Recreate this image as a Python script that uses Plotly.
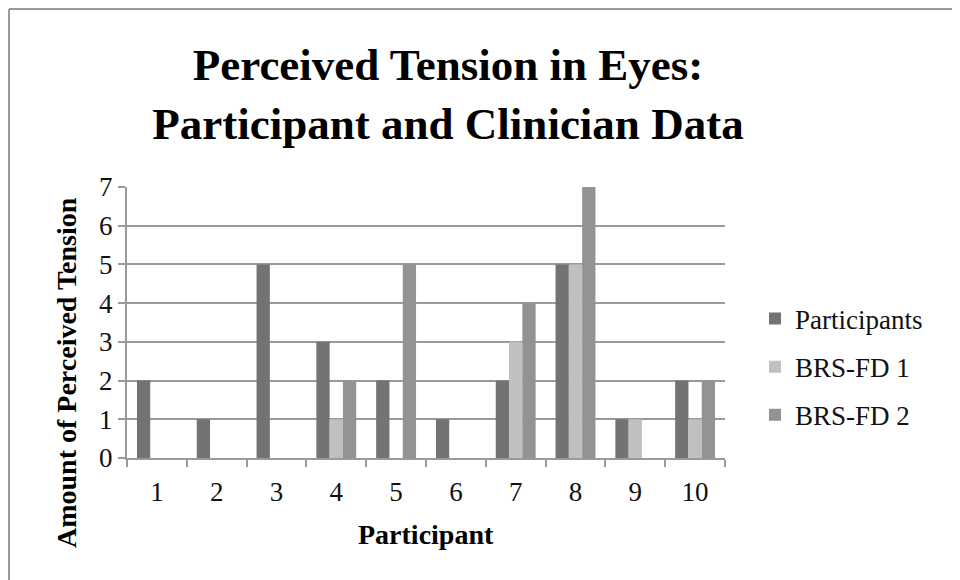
import plotly.graph_objects as go

categories = ["1", "2", "3", "4", "5", "6", "7", "8", "9", "10"]
participants = [2, 1, 5, 3, 2, 1, 2, 5, 1, 2]
brs_fd1 = [0, 0, 0, 1, 0, 0, 3, 5, 1, 1]
brs_fd2 = [0, 0, 0, 2, 5, 0, 4, 7, 0, 2]
y_ticks = [0, 1, 2, 3, 4, 5, 6, 7]

FONT = "Liberation Serif"
GRID = "#9a9a9a"

# plot area in figure pixels
L, R, T, B = 119, 717, 179, 450
W, H = 960, 580
pw, ph = R - L, B - T

def px(x):
    return (x - L) / pw

def py(y):
    return (B - y) / ph

fig = go.Figure()
series = [("Participants", participants, "#737373"),
          ("BRS-FD 1", brs_fd1, "#c0c0c0"),
          ("BRS-FD 2", brs_fd2, "#939393")]
for i, (name, vals, col) in enumerate(series):
    fig.add_trace(go.Bar(x=categories, y=vals, name=name, legendgroup=f"g{i}",
                         marker=dict(color=col, line=dict(width=0))))

fig.update_layout(
    width=W, height=H,
    margin=dict(l=L, r=W - R, t=T, b=H - B, pad=0),
    paper_bgcolor="white", plot_bgcolor="white",
    font=dict(family=FONT, color="#111111", size=27),
    barmode="group", bargap=0.333, bargroupgap=0,
    title=dict(text="<b>Perceived Tension in Eyes:<br>Participant and Clinician Data</b>",
               x=440 / W, xanchor="center", xref="container",
               y=1 - 72 / H, yanchor="top", yref="container",
               font=dict(family=FONT, size=45, color="#000000")),
    legend=dict(x=px(747), xanchor="left", y=py(359), yanchor="middle",
                font=dict(family=FONT, size=27, color="#111111"),
                tracegroupgap=10, bgcolor="rgba(0,0,0,0)"),
    showlegend=True,
)
fig.update_xaxes(type="category", showline=True, linecolor=GRID, linewidth=2,
                 ticks="outside", tickson="boundaries", ticklen=7, tickcolor=GRID, tickwidth=2,
                 tickfont=dict(family=FONT, size=27, color="#111111"),
                 ticklabelstandoff=9, showgrid=False)
fig.update_yaxes(range=[0, 7], tickvals=y_ticks, showline=True, linecolor=GRID, linewidth=2,
                 ticks="outside", ticklen=7, tickcolor=GRID, tickwidth=2,
                 showgrid=True, gridcolor=GRID, gridwidth=2, zeroline=False,
                 tickfont=dict(family=FONT, size=27, color="#111111"))

fig.add_annotation(text="<b>Participant</b>", xref="paper", yref="paper",
                   x=px(418), y=py(526), xanchor="center", yanchor="middle", showarrow=False,
                   font=dict(family=FONT, size=28, color="#000000"))
fig.add_annotation(text="<b>Amount of Perceived Tension</b>", xref="paper", yref="paper",
                   x=px(58), y=py(365), xanchor="center", yanchor="middle",
                   showarrow=False, textangle=-90,
                   font=dict(family=FONT, size=28, color="#000000"))

# outer chart border (top and left visible)
fig.add_shape(type="line", xref="paper", yref="paper", x0=px(1), x1=px(965), y0=py(1), y1=py(1),
              line=dict(color="#9a9a9a", width=2))
fig.add_shape(type="line", xref="paper", yref="paper", x0=px(1), x1=px(1), y0=py(1), y1=py(585),
              line=dict(color="#9a9a9a", width=2))

fig.write_html("out.html")
